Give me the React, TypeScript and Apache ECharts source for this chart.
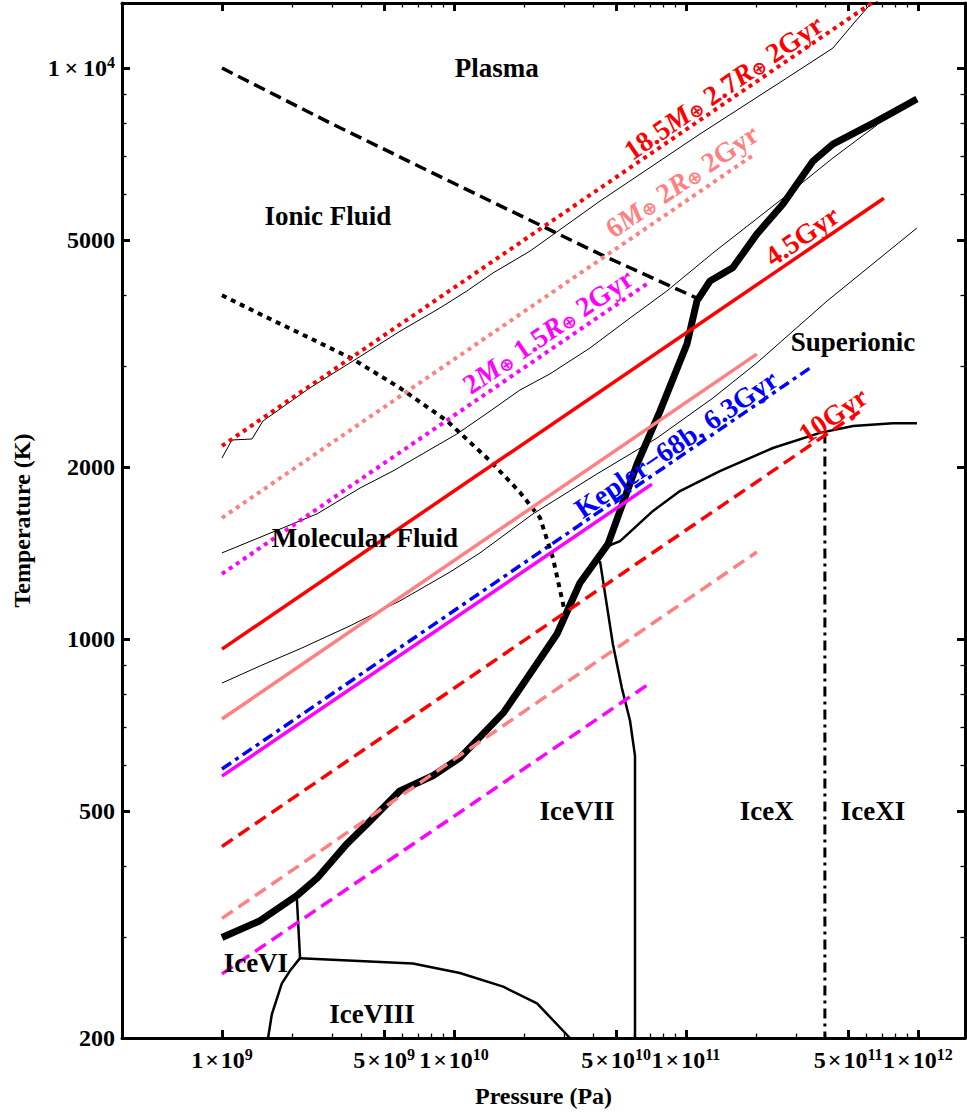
import React, { useEffect, useRef } from 'react';
import * as echarts from 'echarts';

const FONT = '"Liberation Serif", "Times New Roman", Times, serif';
const L = (v: number) => Math.log10(v);

// ---------- axis ranges (Pa, K) ----------
const P_MIN = 3.707e8;
const P_MAX = 1.595e12;
const T_MIN = 200;
const T_MAX = 13000;

// ---------- ticks ----------
const xMajorTicks = [1e9, 5e9, 1e10, 5e10, 1e11, 5e11, 1e12];
const xMajorMantissas = ['1', '5', '1', '5', '1', '5', '1'];
const xMajorExponents = ['9', '9', '10', '10', '11', '11', '12'];
const xMinorTicks = [2e9, 3e9, 4e9, 6e9, 7e9, 8e9, 9e9, 2e10, 3e10, 4e10, 6e10, 7e10, 8e10, 9e10, 2e11, 3e11, 4e11, 6e11, 7e11, 8e11, 9e11];
const yMajorTicks = [200, 500, 1000, 2000, 5000, 10000];
const yMajorLabels = ['{n|200}', '{n|500}', '{n|1000}', '{n|2000}', '{n|5000}', '{n|1\u2009×\u200910}{s|4}'];
const yMinorTicks = [300, 400, 600, 700, 800, 900, 3000, 4000, 6000, 7000, 8000, 9000];

// ---------- thick black curve ----------
const thickP = [1e9, 1.46e9, 2.10e9, 2.57e9, 3.46e9, 4.35e9, 5.85e9, 8.11e9, 1.06e10, 1.63e10, 1.92e10, 2.78e10, 3.49e10, 4.61e10, 6.15e10, 7.73e10, 1.01e11, 1.115e11, 1.27e11, 1.59e11, 2.02e11, 2.62e11, 3.53e11, 4.30e11, 6.66e11, 9.9e11];
const thickT = [300, 321, 355, 381, 438, 480, 542, 576, 619, 742, 817, 1020, 1253, 1466, 2023, 2506, 3286, 3909, 4237, 4468, 5118, 5779, 6872, 7360, 8075, 8826];

// ---------- thin black curves ----------
const thinAP = [1e9, 1.104e9, 1.347e9, 1.502e9, 2.39e9, 3.67e9, 5.85e9, 8.7e9, 1.138e10, 1.472e10, 2.127e10, 4.26e10, 1.148e11, 2.72e11, 4.30e11, 5.25e11, 6.4e11];
const thinAT = [2075, 2231, 2240, 2409, 2752, 3068, 3459, 3800, 4070, 4375, 4780, 5848, 7662, 9605, 10840, 11940, 13090];
const thinBP = [1e9, 2.568e9, 3.934e9, 5.46e9, 1.03e10, 1.43e10, 1.924e10, 2.59e10, 3.856e10, 5.74e10, 8.28e10, 1.306e11, 2.62e11, 4.30e11, 6.66e11];
const thinBT = [1415, 1656, 1838, 1969, 2286, 2506, 2729, 2912, 3233, 3649, 4070, 4742, 5916, 6958, 7946];
const thinCP = [1e9, 1.46e9, 2.17e9, 3.56e9, 5.85e9, 9.62e9, 1.295e10, 2.19e10, 4.13e10, 7.5e10, 1.306e11, 2.02e11, 4.06e11, 9.9e11];
const thinCT = [837, 897, 961, 1054, 1166, 1310, 1415, 1656, 1945, 2249, 2642, 3044, 3909, 5246];

// ---------- phase boundaries ----------
const plasmaP = [1e9, 2.92e9, 1.06e10, 4.26e10, 1.114e11];
const plasmaT = [10000, 8017, 6209, 4721, 3954];
const ionicP = [1e9, 1.46e9, 2.39e9, 3.67e9, 5.85e9, 9.33e9, 1.43e10, 1.92e10, 2.35e10, 2.67e10, 3.0e10];
const ionicT = [4000, 3706, 3366, 3091, 2752, 2410, 2051, 1809, 1630, 1386, 1119];
const iceVI_VII_P = [2.10e9, 2.17e9];
const iceVI_VII_T = [355, 276];
const iceVII_VIII_P = [2.17e9, 6.65e9, 1.06e10, 1.63e10, 2.28e10, 3.16e10];
const iceVII_VIII_T = [276, 270, 260, 246, 230, 200];
const iceVI_VIII_P = [2.17e9, 1.96e9, 1.81e9, 1.64e9, 1.58e9];
const iceVI_VIII_T = [276, 262, 249, 220, 200];
const iceVII_X_P = [4.26e10, 4.84e10, 5.29e10, 5.74e10, 6.03e10, 6.03e10];
const iceVII_X_T = [1369, 980, 821, 719, 624, 200];
const superionicP = [4.61e10, 5.2e10, 7.21e10, 9.42e10, 1.40e11, 2.37e11, 3.78e11, 5.25e11, 7.8e11, 9.9e11];
const superionicT = [1455, 1484, 1676, 1816, 1968, 2160, 2296, 2360, 2388, 2388];
const iceX_XI_P = [3.97e11, 3.97e11];
const iceX_XI_T = [2290, 200];

// ---------- planet adiabats (straight in log-log) ----------
const adiabatP0 = [1e9, 1e9, 1e9, 1e9, 1e9, 1e9, 1e9, 1e9, 1e9, 1e9];
const adiabatT0 = [2179, 1630, 1300, 960, 724, 592, 575, 433, 324, 259];
const adiabatP1 = [1e12, 1.96e11, 6.8e10, 7.13e11, 2.02e11, 3.53e11, 7.13e10, 5.6e11, 2.02e11, 7.13e10];
const adiabatT1 = [14760, 7050, 4190, 5915, 3155, 3008, 1867, 2500, 1420, 841];

// ---------- text labels ----------
const regionNames = ['Plasma', 'Ionic Fluid', 'Molecular Fluid', 'Superionic', 'IceVII', 'IceX', 'IceXI', 'IceVI', 'IceVIII'];
const regionP = [1.53e10, 2.86e9, 4.13e9, 5.25e11, 3.39e10, 2.23e11, 6.4e11, 1.40e9, 4.43e9];
const regionT = [10000, 5510, 1503, 3313, 500, 500, 500, 271, 220];
const curveLabels = [
  '{n|18.5}{i|M}{o|⊕}{n| 2.7}{i|R}{o|⊕}{n| 2Gyr}',
  '{n|6}{i|M}{o|⊕}{n| 2}{i|R}{o|⊕}{n| 2Gyr}',
  '{n|2}{i|M}{o|⊕}{n| 1.5}{i|R}{o|⊕}{n| 2Gyr}',
  '{n|4.5Gyr}',
  '{n|Kepler\u221268b, 6.3Gyr}',
  '{n|10Gyr}',
];
const curveLabelP = [1.45e11, 9.61e10, 2.54e10, 3.16e11, 9.06e10, 4.30e11];
const curveLabelT = [9250, 6339, 3459, 5080, 2196, 2466];

// ---------- styles (not data) ----------
const RED = '#ff0000';
const SALMON = '#ff8080';
const MAGENTA = '#ff00ff';
const BLUE = '#0000ff';
const DOT = [4, 4.5];
const DASH = [13, 7];
const adiabatStyles: { color: string; width: number; type: any }[] = [
  { color: RED, width: 4, type: DOT },
  { color: SALMON, width: 4, type: DOT },
  { color: MAGENTA, width: 4, type: DOT },
  { color: RED, width: 3.5, type: 'solid' },
  { color: SALMON, width: 3.5, type: 'solid' },
  { color: BLUE, width: 3.5, type: [11, 5, 4, 5] },
  { color: MAGENTA, width: 3.5, type: 'solid' },
  { color: RED, width: 3.5, type: DASH },
  { color: SALMON, width: 3.5, type: DASH },
  { color: MAGENTA, width: 3.5, type: DASH },
];
const curveLabelColors = [RED, SALMON, MAGENTA, RED, BLUE, RED];
const LABEL_ANGLE = 34.3;

const X_MIN = L(P_MIN);
const X_MAX = L(P_MAX);
const Y_MIN = L(T_MIN);
const Y_MAX = L(T_MAX);

function pts(P: number[], T: number[]) {
  return P.map((p, i) => [L(p), L(T[i])]);
}

function lineSeries(P: number[], T: number[], color: string, width: number, type: any, z: number, extra: any = {}) {
  return {
    type: 'line',
    data: pts(P, T),
    symbol: 'none',
    showSymbol: false,
    silent: true,
    clip: true,
    z,
    lineStyle: { color, width, type, ...extra },
  };
}

const tickRich = {
  n: { fontSize: 24, fontWeight: 'bold', fontFamily: FONT, color: '#000', lineHeight: 28 },
  s: { fontSize: 16, fontWeight: 'bold', fontFamily: FONT, color: '#000', verticalAlign: 'top', lineHeight: 20 },
};

function xAxisDef(position: 'bottom' | 'top', major: boolean, labeled: boolean) {
  const ax: any = {
    type: 'value',
    min: X_MIN,
    max: X_MAX,
    position,
    splitLine: { show: false },
    axisLine: major ? { show: true, onZero: false, lineStyle: { color: '#000', width: 3 } } : { show: false, onZero: false },
    axisTick: {
      show: true,
      inside: true,
      length: major ? 8 : 4.5,
      lineStyle: { color: '#000', width: major ? 3 : 1.3 },
      customValues: (major ? xMajorTicks : xMinorTicks).map(L),
    },
    axisLabel: { show: false },
  };
  if (labeled) {
    ax.axisLabel = {
      show: true,
      showMinLabel: true,
      showMaxLabel: true,
      hideOverlap: false,
      customValues: xMajorTicks.map(L),
      margin: 8,
      fontFamily: FONT,
      fontSize: 24,
      fontWeight: 'bold',
      color: '#000',
      lineHeight: 28,
      rich: tickRich,
      formatter: (v: number) => {
        const i = xMajorTicks.findIndex((t) => Math.abs(L(t) - v) < 1e-6);
        return i < 0 ? '' : `{n|${xMajorMantissas[i]}\u200a×\u200a10}{s|${xMajorExponents[i]}}`;
      },
    };
    ax.name = 'Pressure (Pa)';
    ax.nameLocation = 'middle';
    ax.nameGap = 46;
    ax.nameTextStyle = { fontFamily: FONT, fontSize: 24, fontWeight: 'bold', color: '#000' };
  }
  return ax;
}

function yAxisDef(position: 'left' | 'right', major: boolean, labeled: boolean) {
  const ax: any = {
    type: 'value',
    min: Y_MIN,
    max: Y_MAX,
    position,
    splitLine: { show: false },
    axisLine: major ? { show: true, onZero: false, lineStyle: { color: '#000', width: 3 } } : { show: false, onZero: false },
    axisTick: {
      show: true,
      inside: true,
      length: major ? 8 : 4.5,
      lineStyle: { color: '#000', width: major ? 3 : 1.3 },
      customValues: (major ? yMajorTicks : yMinorTicks).map(L),
    },
    axisLabel: { show: false },
  };
  if (labeled) {
    ax.axisLabel = {
      show: true,
      showMinLabel: true,
      showMaxLabel: true,
      customValues: yMajorTicks.map(L),
      margin: 7,
      fontFamily: FONT,
      fontSize: 24,
      fontWeight: 'bold',
      color: '#000',
      lineHeight: 28,
      rich: tickRich,
      formatter: (v: number) => {
        const i = yMajorTicks.findIndex((t) => Math.abs(L(t) - v) < 1e-6);
        return i < 0 ? '' : yMajorLabels[i];
      },
    };
    ax.name = 'Temperature (K)';
    ax.nameLocation = 'middle';
    ax.nameRotate = 90;
    ax.nameGap = 88;
    ax.nameTextStyle = { fontFamily: FONT, fontSize: 24, fontWeight: 'bold', color: '#000' };
  }
  return ax;
}

function buildOption(): any {
  const series: any[] = [];
  // phase boundaries
  series.push(lineSeries(iceVI_VII_P, iceVI_VII_T, '#000', 2.5, 'solid', 2));
  series.push(lineSeries(iceVII_VIII_P, iceVII_VIII_T, '#000', 2.5, 'solid', 2));
  series.push(lineSeries(iceVI_VIII_P, iceVI_VIII_T, '#000', 2.5, 'solid', 2));
  series.push(lineSeries(iceVII_X_P, iceVII_X_T, '#000', 2.5, 'solid', 2));
  series.push(lineSeries(superionicP, superionicT, '#000', 2.5, 'solid', 2));
  series.push(lineSeries(iceX_XI_P, iceX_XI_T, '#000', 3, [10, 5, 3, 5], 2));
  series.push(lineSeries(plasmaP, plasmaT, '#000', 3.5, [12, 6], 2));
  series.push(lineSeries(ionicP, ionicT, '#000', 4, [5, 5], 2));
  // thin curves
  series.push(lineSeries(thinAP, thinAT, '#000', 1, 'solid', 3));
  series.push(lineSeries(thinBP, thinBT, '#000', 1, 'solid', 3));
  series.push(lineSeries(thinCP, thinCT, '#000', 1, 'solid', 3));
  // thick curve
  series.push(lineSeries(thickP, thickT, '#000', 7, 'solid', 4, { cap: 'butt', join: 'round' }));
  // adiabats
  adiabatP0.forEach((p0, i) => {
    const st = adiabatStyles[i];
    series.push(lineSeries([p0, adiabatP1[i]], [adiabatT0[i], adiabatT1[i]], st.color, st.width, st.type, 5));
  });
  // region labels
  series.push({
    type: 'scatter',
    symbolSize: 1,
    silent: true,
    z: 10,
    itemStyle: { color: 'rgba(255,255,255,0)' },
    label: {
      show: true,
      position: 'inside',
      fontFamily: FONT,
      fontSize: 27,
      fontWeight: 'bold',
      color: '#000000',
      textBorderWidth: 0,
      textBorderColor: 'transparent',
      opacity: 1,
    },
    data: regionNames.map((n, i) => ({ value: [L(regionP[i]), L(regionT[i])], label: { formatter: n } })),
  });
  // curve labels
  series.push({
    type: 'scatter',
    symbolSize: 1,
    silent: true,
    z: 10,
    itemStyle: { color: 'rgba(255,255,255,0)' },
    label: {
      show: true,
      position: 'inside',
      fontFamily: FONT,
      fontSize: 28,
      fontWeight: 'bold',
      lineHeight: 26,
      rotate: LABEL_ANGLE,
      textBorderWidth: 0,
      textBorderColor: 'transparent',
      opacity: 1,
    },
    data: curveLabels.map((t, i) => {
      const c = curveLabelColors[i];
      return {
        value: [L(curveLabelP[i]), L(curveLabelT[i])],
        label: {
          formatter: t,
          color: c,
          rich: {
            n: { fontFamily: FONT, fontSize: 28, fontWeight: 'bold', color: c, lineHeight: 26 },
            i: { fontFamily: FONT, fontSize: 28, fontWeight: 'bold', fontStyle: 'italic', color: c, lineHeight: 26 },
            o: { fontFamily: '"DejaVu Sans", sans-serif', fontSize: 18, fontWeight: 'bold', color: c, verticalAlign: 'bottom', lineHeight: 14 },
          },
        },
      };
    }),
  });

  return {
    animation: false,
    backgroundColor: '#fff',
    grid: { left: 122, right: 2, top: 3, bottom: 77, containLabel: false },
    xAxis: [
      xAxisDef('bottom', true, true),
      xAxisDef('bottom', false, false),
      xAxisDef('top', true, false),
      xAxisDef('top', false, false),
    ],
    yAxis: [
      yAxisDef('left', true, true),
      yAxisDef('left', false, false),
      yAxisDef('right', true, false),
      yAxisDef('right', false, false),
    ],
    series,
  };
}

export default function App() {
  const ref = useRef<HTMLDivElement>(null);
  useEffect(() => {
    if (!ref.current) return;
    const chart = echarts.init(ref.current, undefined, { renderer: 'svg' });
    chart.setOption(buildOption());
    return () => chart.dispose();
  }, []);
  return (
    <div
      ref={ref}
      style={{ position: 'absolute', left: 0, top: 0, width: 967, height: 1115, background: '#fff' }}
    />
  );
}
